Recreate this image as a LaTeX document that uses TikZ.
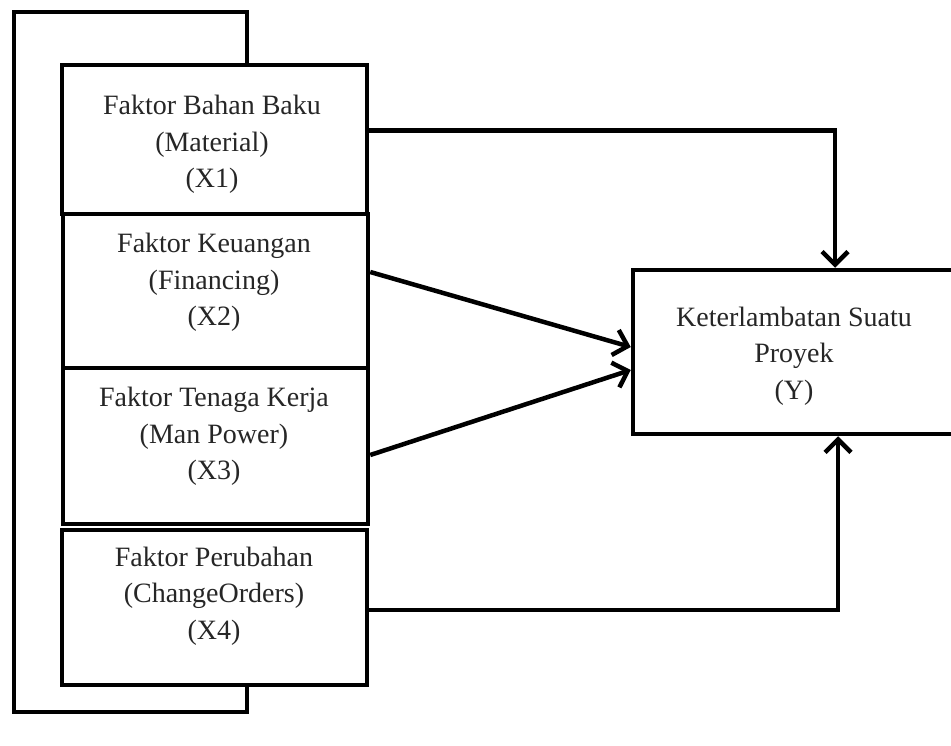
\documentclass[tikz,border=0pt]{standalone}
\usepackage{fontspec}
\setmainfont{Liberation Serif}
\usetikzlibrary{arrows.meta}
\begin{document}
\begin{tikzpicture}[x=1pt,y=-1pt,
    every node/.style={font=\fontsize{28}{36.5}\selectfont, text=black!85},
    faktor/.style={draw, line width=4.5pt, inner sep=0pt, minimum width=305pt},
    isi/.style={align=center, inner sep=0pt},
    line/.style={line width=4.5pt},
    arr/.style={line width=4.5pt, -{Straight Barb[length=13pt,width=26pt,line width=4.5pt]}}]
  \useasboundingbox (0,0) rectangle (951,745);
  \clip (0,0) rectangle (951,745);
  \fill[white] (0,0) rectangle (951,745);
  % the four factor boxes
  \node[faktor, minimum height=149pt] (x1) at (214.5,139.5) {};
  \node[faktor, minimum height=154pt] (x2) at (215.5,291) {};
  \node[faktor, minimum height=156pt] (x3) at (215.5,446) {};
  \node[faktor, minimum height=155pt] (x4) at (214.5,607.5) {};
  % the delay box, cut off on the right
  \node[faktor, minimum width=327pt, minimum height=164pt] (y) at (796.5,352) {};
  % texts
  \node[isi] (x1t) at (212,144.5) {Faktor Bahan Baku\\(Material)\\(X1)};
  \node[isi] (x2t) at (214,282.5) {Faktor Keuangan\\(Financing)\\(X2)};
  \node[isi] (x3t) at (214,436.5) {Faktor Tenaga Kerja\\(Man Power)\\(X3)};
  \node[isi] (x4t) at (214,596) {Faktor Perubahan\\(ChangeOrders)\\(X4)};
  \node[isi] (yt) at (794,356) {Keterlambatan Suatu\\Proyek\\(Y)};
  % loop round the left side
  \coordinate (lt) at (14,12);
  \coordinate (lb) at (14,712);
  \draw[line] ([xshift=32.5pt]x1.north) |- (lt) -- (lb) -| ([xshift=32.5pt]x4.south);
  % arrows
  \draw[arr] ([yshift=9pt]x1.east) -| ([xshift=38.5pt]y.north);
  \draw[arr] ([yshift=19pt]x2.east) -- ([yshift=5pt]y.west);
  \draw[arr] ([yshift=-9pt]x3.east) -- ([yshift=-18pt]y.west);
  \draw[arr] ([yshift=-2.5pt]x4.east) -| ([xshift=41.5pt]y.south);
\end{tikzpicture}
\end{document}
